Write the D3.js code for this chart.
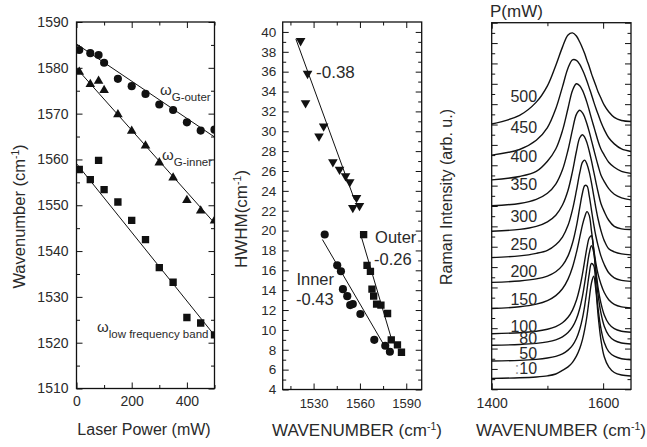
<!DOCTYPE html>
<html><head><meta charset="utf-8">
<script src="https://cdn.jsdelivr.net/npm/d3@7"></script>
<style>
body{margin:0;background:#fff;}
svg{display:block;}
</style></head><body>
<script>
// ---------------- DATA ----------------
// Left panel: peak positions vs laser power
const power = [10, 50, 80, 100, 150, 200, 250, 300, 350, 400, 450, 500];
const gOuter = [1583.9, 1583.2, 1582.8, 1581.1, 1577.6, 1576.0, 1574.3, 1572.0, 1570.8, 1568.1, 1566.3, 1566.5];
const gInner = [1579.1, 1576.4, 1577.1, 1575.1, 1569.8, 1566.2, 1563.0, 1559.3, 1556.0, 1551.1, 1548.8, 1546.6];
const lowBand = [1557.8, 1555.6, 1559.8, 1553.4, 1550.7, 1546.7, 1542.5, 1536.4, 1533.2, 1525.5, 1524.3, 1521.7];
const fitPower = [0, 500];
const gOuterFit = [1585.2, 1564.9];
const gInnerFit = [1579.9, 1546.1];
const lowBandFit = [1559.1, 1521.6];

// Middle panel: HWHM vs wavenumber
const lowHwX = [1521.6, 1526.1, 1524.8, 1536.5, 1533.5, 1542.5, 1546.8, 1550.7, 1553.4, 1557.8, 1555.4, 1559.7];
const lowHwY = [39.1, 35.8, 32.85, 30.5, 29.5, 26.9, 26.15, 25.5, 24.9, 23.3, 22.3, 22.5];
const innerHwX = [1537.2, 1545.3, 1547.7, 1549.0, 1551.8, 1553.7, 1555.4, 1560.3, 1569.3, 1576.4, 1579.4];
const innerHwY = [19.6, 16.5, 15.9, 14.1, 13.4, 12.5, 12.6, 11.6, 9.0, 8.4, 7.8];
const outerHwX = [1562.4, 1564.6, 1566.8, 1567.8, 1568.9, 1570.8, 1573.6, 1577.9, 1580.3, 1584.3, 1586.9];
const outerHwY = [19.6, 16.5, 15.9, 14.1, 13.4, 12.6, 12.5, 11.65, 9.0, 8.5, 7.75];
const lowHwFitX = [1518.5, 1556.5], lowHwFitY = [39.3, 23.1];
const innerHwFitX = [1535.7, 1575.1], innerHwFitY = [19.1, 8.6];
const outerHwFitX = [1560.3, 1581.1], outerHwFitY = [19.7, 8.75];

// Right panel: Raman spectra (offset), sampled at specW
const specW = [1400,1450,1480,1500,1515,1527,1537,1545,1552,1558,1563,1567,1571,1575,1579,1583,1587,1591,1596,1602,1610,1620,1633,1650];
const specLabels = ["500","450","400","350","300","250","200","150","100","80","50","10"];
const spec500 = [26.05,26.9,28.2,29.8,31.8,33.6,34.8,35.0,34.7,34.1,33.5,32.95,32.3,31.7,31.0,30.4,29.8,29.2,28.6,27.9,27.25,26.7,26.4,26.3];
const spec450 = [23.0,23.55,24.45,25.7,27.55,29.7,31.55,32.35,32.3,31.9,31.35,30.85,30.25,29.6,28.95,28.25,27.6,27.0,26.25,25.5,24.7,24.1,23.6,23.35];
const spec400 = [20.57,20.9,21.4,22.4,23.6,25.4,27.6,29.35,30.0,29.8,29.35,28.8,28.15,27.4,26.6,25.85,25.1,24.35,23.6,23.0,22.3,21.8,21.4,21.2];
const spec350 = [18.02,18.25,18.65,19.25,20.15,21.55,23.5,25.5,27.0,27.4,27.15,26.7,26.05,25.3,24.45,23.6,22.75,21.95,21.05,20.4,19.7,19.15,18.8,18.6];
const spec300 = [15.52,15.7,16.0,16.45,17.1,18.1,19.55,21.4,23.35,24.7,25.0,24.75,24.2,23.4,22.45,21.4,20.35,19.35,18.25,17.45,16.6,16.0,15.75,15.7];
const spec250 = [12.93,13.1,13.35,13.65,14.2,14.95,16.1,17.65,19.5,21.25,22.3,22.5,22.1,21.35,20.3,19.05,17.8,16.7,15.6,14.6,13.8,13.5,13.3,13.2];
const spec200 = [10.5,10.64,10.84,11.12,11.54,12.17,13.1,14.36,16.0,17.84,19.3,20.0,19.97,19.03,17.63,16.22,15.03,14.09,13.1,12.25,11.45,10.95,10.7,10.6];
const spec150 = [7.93,8.1,8.36,8.71,9.2,9.87,10.82,11.99,13.42,14.91,16.17,16.95,17.45,17.08,15.58,13.84,12.37,11.28,10.34,9.5,8.8,8.35,8.1,8.0];
const spec100 = [5.46,5.56,5.7,5.9,6.16,6.54,7.07,7.78,8.74,9.97,11.35,12.65,13.93,14.86,15.08,13.72,11.68,9.94,8.47,7.3,6.45,5.95,5.7,5.6];
const spec80 = [4.32,4.4,4.51,4.66,4.86,5.15,5.57,6.12,6.9,7.93,9.18,10.48,11.96,13.34,14.1,13.47,11.33,9.25,7.5,6.2,5.3,4.8,4.55,4.45];
const spec50 = [2.78,2.84,2.94,3.07,3.24,3.49,3.85,4.32,4.99,5.9,7.02,8.25,9.75,11.3,12.35,12.16,10.11,7.88,5.99,4.6,3.7,3.25,3.0,2.9];
const spec10 = [1.07,1.13,1.21,1.32,1.5,1.85,2.2,2.65,3.25,4.0,4.9,5.9,7.2,8.87,10.43,11.1,9.73,7.24,4.88,3.2,2.2,1.65,1.4,1.3];
const spectra = [spec500,spec450,spec400,spec350,spec300,spec250,spec200,spec150,spec100,spec80,spec50,spec10];
// label anchor (data units) for each spectrum label
const specLabelW = 1481.5;
const specLabelY = [28.25,25.13,22.35,19.57,16.46,13.68,11.06,8.28,5.65,4.49,2.95,1.55];

// ---------------- DRAWING ----------------
const FONT = '"Liberation Sans", Arial, Helvetica, sans-serif';
const INK = "#111";
const TXT = "#2a2a2a";
const svg = d3.select("body").append("svg").attr("width", 647).attr("height", 447);

// scales
const xL = d3.scaleLinear().domain([0, 500]).range([76.5, 214.5]);
const yL = d3.scaleLinear().domain([1510, 1590]).range([388.5, 22]);
const xM = d3.scaleLinear().domain([1510, 1600]).range([282.7, 421.7]);
const yM = d3.scaleLinear().domain([4, 41]).range([389.5, 22]);
const xR = d3.scaleLinear().domain([1400, 1650]).range([491.7, 631]);
const yR = d3.scaleLinear().domain([0, 36]).range([389.3, 22.7]);

function axisPart(g, gen, tr, vals, size, pad, fmt, fs) {
  const a = g.append("g").attr("transform", tr)
    .call(gen.tickValues(vals).tickSize(size).tickPadding(pad).tickFormat(fmt));
  a.select(".domain").remove();
  a.selectAll("line").attr("stroke", INK).attr("stroke-width", 1);
  a.selectAll("text").attr("font-size", fs).attr("font-family", FONT).attr("fill", TXT);
  return a;
}
const none = () => "";

function panel(o) {
  const g = svg.append("g");
  const [xa, xb] = o.x.range();
  const [yb, yt] = o.y.range();
  axisPart(g, d3.axisBottom(o.x), `translate(0,${yb})`, o.xMaj, -6, o.xPad, o.xFmt, o.xFs);
  axisPart(g, d3.axisBottom(o.x), `translate(0,${yb})`, o.xMin, -3.5, 0, none, 1);
  axisPart(g, d3.axisTop(o.x), `translate(0,${yt})`, o.xMaj, -6, 0, none, 1);
  axisPart(g, d3.axisTop(o.x), `translate(0,${yt})`, o.xMin, -3.5, 0, none, 1);
  axisPart(g, d3.axisLeft(o.y), `translate(${xa},0)`, o.yMaj, -6, o.yPad, o.yFmt, o.yFs);
  axisPart(g, d3.axisLeft(o.y), `translate(${xa},0)`, o.yMin, -3.5, 0, none, 1);
  axisPart(g, d3.axisRight(o.y), `translate(${xb},0)`, o.yMaj, -6, 0, none, 1);
  axisPart(g, d3.axisRight(o.y), `translate(${xb},0)`, o.yMin, -3.5, 0, none, 1);
  g.append("rect").attr("x", xa).attr("y", yt).attr("width", xb - xa).attr("height", yb - yt)
    .attr("fill", "none").attr("stroke", INK).attr("stroke-width", 1.3);
  const id = "clip" + o.id;
  svg.append("clipPath").attr("id", id).append("rect")
    .attr("x", xa).attr("y", yt).attr("width", xb - xa).attr("height", yb - yt);
  return svg.append("g").attr("clip-path", `url(#${id})`);
}

function titleText(x, y, rot, main, sup, fs, anchor) {
  const t = svg.append("text").attr("font-family", FONT).attr("font-size", fs).attr("fill", TXT)
    .attr("text-anchor", anchor || "middle")
    .attr("transform", `translate(${x},${y})` + (rot ? " rotate(-90)" : ""));
  t.append("tspan").text(main);
  if (sup) {
    t.append("tspan").attr("dy", -fs * 0.38).attr("font-size", fs * 0.62).text(sup);
    t.append("tspan").attr("dy", fs * 0.38).text(")");
  }
  return t;
}

// ===== Left panel =====
const pL = panel({
  id: "L", x: xL, y: yL,
  xMaj: [0, 200, 400], xMin: [100, 300, 500], xPad: 8, xFmt: d3.format("d"), xFs: 14,
  yMaj: d3.range(1510, 1591, 10), yMin: d3.range(1515, 1590, 10), yPad: 8, yFmt: d3.format("d"), yFs: 14
});
const fitLine = d3.line().x(d => xL(d[0])).y(d => yL(d[1]));
[gOuterFit, gInnerFit, lowBandFit].forEach(f => {
  pL.append("path").attr("d", fitLine(fitPower.map((p, i) => [p, f[i]])))
    .attr("fill", "none").attr("stroke", INK).attr("stroke-width", 1);
});
const symC = d3.symbol().type(d3.symbolCircle).size(52)();
const symT = d3.symbol().type(d3.symbolTriangle).size(40)();
const symS = d3.symbol().type(d3.symbolSquare).size(54)();
function marks(g, xs, ys, xsc, ysc, sym, rot) {
  g.selectAll(null).data(xs.map((x, i) => [x, ys[i]])).join("path")
    .attr("d", sym)
    .attr("transform", d => `translate(${xsc(d[0])},${ysc(d[1])})` + (rot ? " rotate(180)" : ""))
    .attr("fill", INK);
}
marks(pL, power, gOuter, xL, yL, symC);
marks(pL, power, gInner, xL, yL, symT);
marks(pL, power, lowBand, xL, yL, symS);

function omega(x, y, sub) {
  const t = svg.append("text").attr("font-family", FONT).attr("fill", TXT)
    .attr("x", xL(x)).attr("y", yL(y));
  t.append("tspan").attr("font-size", 15).text("ω");
  t.append("tspan").attr("font-size", 11.5).attr("dy", 6).text(sub);
}
omega(302.5, 1574.07, "G-outer");
omega(309.8, 1559.88, "G-inner");
omega(74.3, 1522.4, "low frequency band");

titleText(25, 216.5, true, "Wavenumber (cm", "-1", 16.5);
titleText(144, 435, false, "Laser Power (mW)", null, 16);

// ===== Middle panel =====
const pM = panel({
  id: "M", x: xM, y: yM,
  xMaj: [1530, 1560, 1590], xMin: [1515, 1545, 1575], xPad: 9.5, xFmt: d3.format("d"), xFs: 13,
  yMaj: d3.range(4, 41, 2), yMin: d3.range(5, 41, 2), yPad: 6.5, yFmt: d3.format("d"), yFs: 13.5
});
const mLine = d3.line().x(d => xM(d[0])).y(d => yM(d[1]));
[[lowHwFitX, lowHwFitY], [innerHwFitX, innerHwFitY], [outerHwFitX, outerHwFitY]].forEach(([fx, fy]) => {
  pM.append("path").attr("d", mLine(fx.map((x, i) => [x, fy[i]])))
    .attr("fill", "none").attr("stroke", INK).attr("stroke-width", 1);
});
marks(pM, lowHwX, lowHwY, xM, yM, symT, true);
marks(pM, innerHwX, innerHwY, xM, yM, symC);
marks(pM, outerHwX, outerHwY, xM, yM, symS);
function mText(x, y, s, fs) {
  svg.append("text").attr("font-family", FONT).attr("font-size", fs).attr("fill", TXT)
    .attr("x", xM(x)).attr("y", yM(y)).text(s);
}
mText(1531.6, 35.33, "-0.38", 17);
mText(1569.8, 18.70, "Outer", 16.5);
mText(1569.1, 16.53, "-0.26", 16.5);
mText(1518.9, 14.52, "Inner", 16.5);
mText(1518.6, 12.51, "-0.43", 16.5);

titleText(247, 219, true, "HWHM(cm", "-1", 17);
titleText(357, 436, false, "WAVENUMBER (cm", "-1", 17);

// ===== Right panel =====
const pR = panel({
  id: "R", x: xR, y: yR,
  xMaj: [1400, 1600], xMin: [1500], xPad: 9, xFmt: d3.format("d"), xFs: 14,
  yMaj: d3.range(0, 37, 2), yMin: d3.range(1, 36, 2), yPad: 4, yFmt: none, yFs: 1
});
const sLine = d3.line().x(d => xR(d[0])).y(d => yR(d[1])).curve(d3.curveCatmullRom.alpha(0.5));
spectra.forEach(s => {
  pR.append("path").attr("d", sLine(specW.map((w, i) => [w, s[i]])))
    .attr("fill", "none").attr("stroke", INK).attr("stroke-width", 1.4);
});
specLabels.forEach((lab, i) => {
  const t = svg.append("text").attr("font-family", FONT).attr("font-size", 16).attr("fill", TXT)
    .attr("text-anchor", "end").attr("x", xR(specLabelW)).attr("y", yR(specLabelY[i]));
  if (lab === "10") {
    t.append("tspan").attr("fill", "#999").text(":");
    t.append("tspan").text(lab);
  } else t.text(lab);
});
svg.append("text").attr("font-family", FONT).attr("font-size", 17).attr("fill", TXT)
  .attr("x", 490).attr("y", 16.7).text("P(mW)");

titleText(451.5, 197, true, "Raman Intensity (arb. u.)", null, 16);
titleText(561, 436, false, "WAVENUMBER (cm", "-1", 17);
</script>
</body></html>
